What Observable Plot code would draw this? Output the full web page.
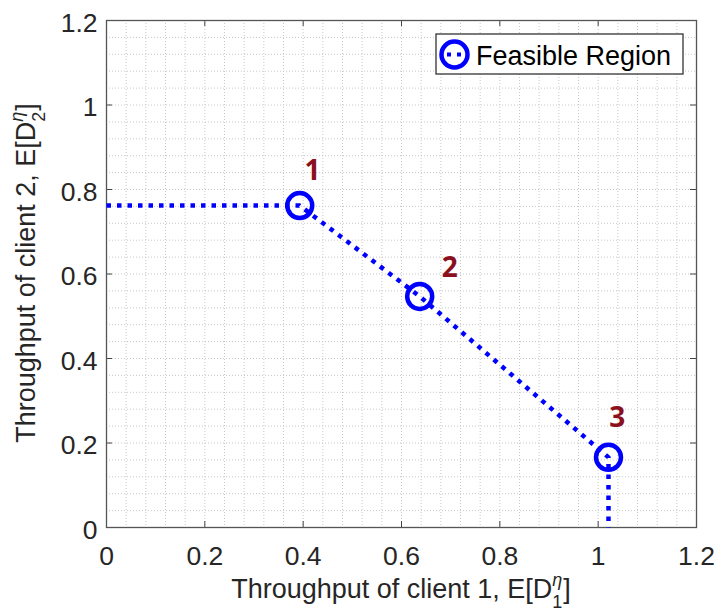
<!DOCTYPE html>
<html>
<head>
<meta charset="utf-8">
<script src="https://cdn.jsdelivr.net/npm/d3@7"></script>
<script src="https://cdn.jsdelivr.net/npm/@observablehq/plot@0.6"></script>
<style>
  html, body { margin: 0; padding: 0; background: #fff; }
  #chart { position: relative; width: 719px; height: 613px; }
</style>
</head>
<body>
<div id="chart"></div>
<script>
// Corner points of the feasible throughput region
const clientOne = [0.393, 0.637, 1.021];
const clientTwo = [0.762, 0.547, 0.166];
const pointNames = ["1", "2", "3"];
// Anchors (data units) for the point numbers
const nameX = [0.419, 0.698, 1.039];
const nameY = [0.843, 0.615, 0.258];
// Axis ticks
const tickValues = [0, 0.2, 0.4, 0.6, 0.8, 1, 1.2];
const tickLabels = ["0", "0.2", "0.4", "0.6", "0.8", "1", "1.2"];
const legendLabel = "Feasible Region";

const points = clientOne.map((x, i) => ({x, y: clientTwo[i], name: pointNames[i]}));
// Region boundary: flat from the y-axis, through the corners, straight down to the x-axis
const boundary = [{x: 0, y: clientTwo[0]}, ...points, {x: clientOne[2], y: 0}];
const names = pointNames.map((t, i) => ({x: nameX[i], y: nameY[i], t}));
const minorGrid = d3.range(1, 30).map(i => +(i * 0.04).toFixed(2));

const W = 719, H = 613;
const M = {left: 106, right: 23, top: 20, bottom: 86};
const innerH = H - M.top - M.bottom, innerW = W - M.left - M.right;
const font = "'Liberation Sans', Arial, sans-serif";
const blue = "#0000ff";
const tick = 6;

const plot = Plot.plot({
  width: W,
  height: H,
  marginLeft: M.left,
  marginRight: M.right,
  marginTop: M.top,
  marginBottom: M.bottom,
  style: {fontFamily: font, fontSize: "26px", color: "#262626", background: "#fff"},
  x: {domain: [0, 1.2]},
  y: {domain: [0, 1.2]},
  marks: [
    // dotted grid
    Plot.ruleX(minorGrid, {x: d => d, stroke: "#c8c8c8", strokeWidth: 1, strokeDasharray: "1,2"}),
    Plot.ruleY(minorGrid, {y: d => d, stroke: "#c8c8c8", strokeWidth: 1, strokeDasharray: "1,2"}),
    // inward ticks on all four sides
    Plot.ruleX(tickValues, {x: d => d, insetTop: innerH - tick, stroke: "#444"}),
    Plot.ruleX(tickValues, {x: d => d, insetBottom: innerH - tick, stroke: "#444"}),
    Plot.ruleY(tickValues, {y: d => d, insetRight: innerW - tick, stroke: "#444"}),
    Plot.ruleY(tickValues, {y: d => d, insetLeft: innerW - tick, stroke: "#444"}),
    Plot.axisX(tickValues, {tickSize: 0, tickPadding: 19, tickFormat: (d, i) => tickLabels[i], label: null, fontSize: 26.5, fill: "#262626"}),
    Plot.axisY(tickValues, {tickSize: 0, tickPadding: 9, tickFormat: (d, i) => tickLabels[i], label: null, fontSize: 26.5, fill: "#262626", dy: 3}),
    Plot.frame({stroke: "#555", strokeWidth: 1.3}),
    // region boundary
    Plot.line(boundary, {x: "x", y: "y", stroke: blue, strokeWidth: 4.5, strokeDasharray: "4.5,6", strokeLinecap: "butt"}),
    Plot.dot(points, {x: "x", y: "y", r: 12.5, stroke: blue, strokeWidth: 4.5, fill: "none"}),
    Plot.text(names, {x: "x", y: "y", text: "t", fill: "#8a1020", fontSize: 28, fontWeight: "bold", fontFamily: "'Open Sans', sans-serif"})
  ]
});

document.getElementById("chart").appendChild(plot);

const svg = d3.select(plot);

// x-axis title with stacked sub/superscript
const xt = svg.append("text")
  .attr("x", 401).attr("y", 598)
  .attr("text-anchor", "middle")
  .attr("fill", "#262626")
  .style("font", `27px ${font}`);
xt.append("tspan").text("Throughput of client 1, E[D");
xt.append("tspan").attr("dy", 10).style("font-size", "18px").text("1");
xt.append("tspan").attr("dx", -10).attr("dy", -22).style("font-size", "18px").style("font-style", "italic").text("η");
xt.append("tspan").attr("dy", 12).attr("dx", 1).text("]");

// y-axis title, rotated
const yt = svg.append("text")
  .attr("transform", "translate(35,273) rotate(-90)")
  .attr("text-anchor", "middle")
  .attr("fill", "#262626")
  .style("font", `27px ${font}`);
yt.append("tspan").text("Throughput of client 2, E[D");
yt.append("tspan").attr("dy", 10).style("font-size", "18px").text("2");
yt.append("tspan").attr("dx", -10).attr("dy", -22).style("font-size", "18px").style("font-style", "italic").text("η");
yt.append("tspan").attr("dy", 12).attr("dx", 1).text("]");

// legend
const lg = svg.append("g").attr("transform", "translate(436,34)");
lg.append("rect").attr("width", 247).attr("height", 40).attr("fill", "#fff").attr("stroke", "#333").attr("stroke-width", 1.3);
lg.append("line").attr("x1", 11).attr("x2", 28).attr("y1", 20.5).attr("y2", 20.5)
  .attr("stroke", blue).attr("stroke-width", 4).attr("stroke-dasharray", "4,6");
lg.append("circle").attr("cx", 18.5).attr("cy", 20.5).attr("r", 13)
  .attr("fill", "none").attr("stroke", blue).attr("stroke-width", 4.5);
lg.append("text").attr("x", 40).attr("y", 31).attr("fill", "#000")
  .attr("text-anchor", "start")
  .style("font", `27px ${font}`).text(legendLabel);
</script>
</body>
</html>
